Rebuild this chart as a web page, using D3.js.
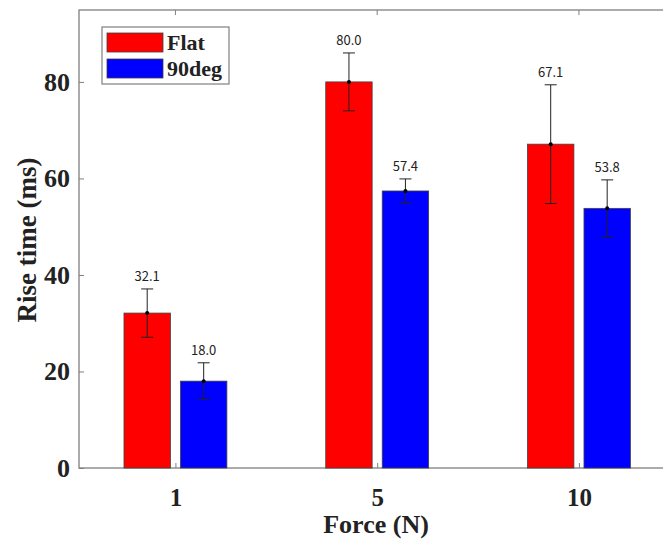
<!DOCTYPE html>
<html>
<head>
<meta charset="utf-8">
<script src="https://cdn.jsdelivr.net/npm/d3@7"></script>
<style>
  html, body { margin: 0; padding: 0; background: #fff; }
  svg { display: block; }
</style>
</head>
<body>
<svg id="chart" width="663" height="540"></svg>
<script>
// Rise time per applied force, two tip shapes, with error bars
const forces = ["1", "5", "10"];
const seriesNames = ["Flat", "90deg"];
const flatMeans = [32.1, 80.0, 67.1];
const flatErrors = [5.0, 6.0, 12.3];
const deg90Means = [18.0, 57.4, 53.8];
const deg90Errors = [3.8, 2.5, 5.9];
const yTicks = [0, 20, 40, 60, 80];
const seriesColors = ["#ff0000", "#0000ff"];

const series = [
  { name: seriesNames[0], means: flatMeans, errors: flatErrors, color: seriesColors[0] },
  { name: seriesNames[1], means: deg90Means, errors: deg90Errors, color: seriesColors[1] }
];

const svg = d3.select("#chart");
const plotLeft = 79, plotTop = 10, plotBottom = 468;
const serif = "'Liberation Serif', 'Times New Roman', serif";

// category index scale (1..3), axis box runs past the right edge
const x = d3.scaleLinear().domain([0.522, 3.5]).range([plotLeft, plotLeft + 2.978 * 201.75]);
const y = d3.scaleLinear().domain([0, 94.9]).range([plotBottom, plotTop]);
const barW = 0.23;
const offsets = [-0.14, 0.14];

const axisColor = "#7f7f7f";

// axis box
svg.append("rect")
  .attr("x", plotLeft).attr("y", plotTop)
  .attr("width", x(3.5) - plotLeft).attr("height", plotBottom - plotTop)
  .attr("fill", "none").attr("stroke", axisColor).attr("stroke-width", 1.3);

// bars
series.forEach((s, si) => {
  const g = svg.append("g");
  g.selectAll("rect").data(s.means).join("rect")
    .attr("x", (d, i) => x(i + 1 + offsets[si] - barW / 2))
    .attr("y", d => y(d))
    .attr("width", x(1 + barW) - x(1))
    .attr("height", d => y(0) - y(d))
    .attr("fill", s.color)
    .attr("stroke", "#404040").attr("stroke-width", 0.8);
});

// error bars and value labels
series.forEach((s, si) => {
  const g = svg.append("g");
  s.means.forEach((m, i) => {
    const cx = x(i + 1 + offsets[si]);
    const e = s.errors[i];
    g.append("line").attr("x1", cx).attr("x2", cx)
      .attr("y1", y(m + e)).attr("y2", y(m - e))
      .attr("stroke", "#222").attr("stroke-width", 1);
    [m + e, m - e].forEach(v => {
      g.append("line").attr("x1", cx - 6).attr("x2", cx + 6)
        .attr("y1", y(v)).attr("y2", y(v))
        .attr("stroke", "#222").attr("stroke-width", 1);
    });
    g.append("circle").attr("cx", cx).attr("cy", y(m)).attr("r", 2).attr("fill", "#000");
    g.append("text")
      .attr("x", cx).attr("y", y(m + e) - 8)
      .attr("text-anchor", "middle")
      .attr("font-family", "'Noto Sans CJK JP', 'Liberation Sans', sans-serif")
      .attr("font-size", 13).attr("fill", "#222")
      .text(m.toFixed(1));
  });
});

// y axis
const yAxis = d3.axisLeft(y).tickValues(yTicks).tickSize(-5).tickPadding(9).tickFormat(d3.format("d"));
const yg = svg.append("g").attr("transform", `translate(${plotLeft},0)`).call(yAxis);
yg.select(".domain").remove();
yg.selectAll(".tick line").attr("stroke", axisColor);
yg.selectAll(".tick text")
  .attr("font-family", serif)
  .attr("font-weight", "bold").attr("font-size", 26).attr("fill", "#222");

// x axis
const xAxis = d3.axisBottom(x).tickValues([1, 2, 3]).tickSize(-5).tickPadding(20)
  .tickFormat((d) => forces[d - 1]);
const xg = svg.append("g").attr("transform", `translate(0,${plotBottom})`).call(xAxis);
xg.select(".domain").remove();
xg.selectAll(".tick line").attr("stroke", axisColor);
xg.selectAll(".tick text")
  .attr("font-family", serif)
  .attr("font-weight", "bold").attr("font-size", 25).attr("fill", "#222");

// top ticks
const tg = svg.append("g");
[1, 2, 3].forEach(v => {
  tg.append("line").attr("x1", x(v)).attr("x2", x(v))
    .attr("y1", plotTop).attr("y2", plotTop + 5).attr("stroke", axisColor);
});

// axis titles
svg.append("text")
  .attr("x", 376).attr("y", 533)
  .attr("text-anchor", "middle")
  .attr("font-family", serif)
  .attr("font-weight", "bold").attr("font-size", 26).attr("fill", "#222")
  .text("Force (N)");
svg.append("text")
  .attr("transform", "translate(36,240) rotate(-90)")
  .attr("text-anchor", "middle")
  .attr("font-family", serif)
  .attr("font-weight", "bold").attr("font-size", 27).attr("fill", "#222")
  .text("Rise time (ms)");

// legend
const lg = svg.append("g");
lg.append("rect").attr("x", 102).attr("y", 27).attr("width", 127).attr("height", 57)
  .attr("fill", "#fff").attr("stroke", axisColor).attr("stroke-width", 1.2);
series.forEach((s, si) => {
  const yy = 33 + si * 26;
  lg.append("rect").attr("x", 107).attr("y", yy).attr("width", 56).attr("height", 19)
    .attr("fill", s.color).attr("stroke", "#404040").attr("stroke-width", 0.8);
  lg.append("text").attr("x", 167).attr("y", yy + 17)
    .attr("font-family", serif)
    .attr("font-weight", "bold").attr("font-size", 22).attr("fill", "#222")
    .text(s.name);
});
</script>
</body>
</html>
